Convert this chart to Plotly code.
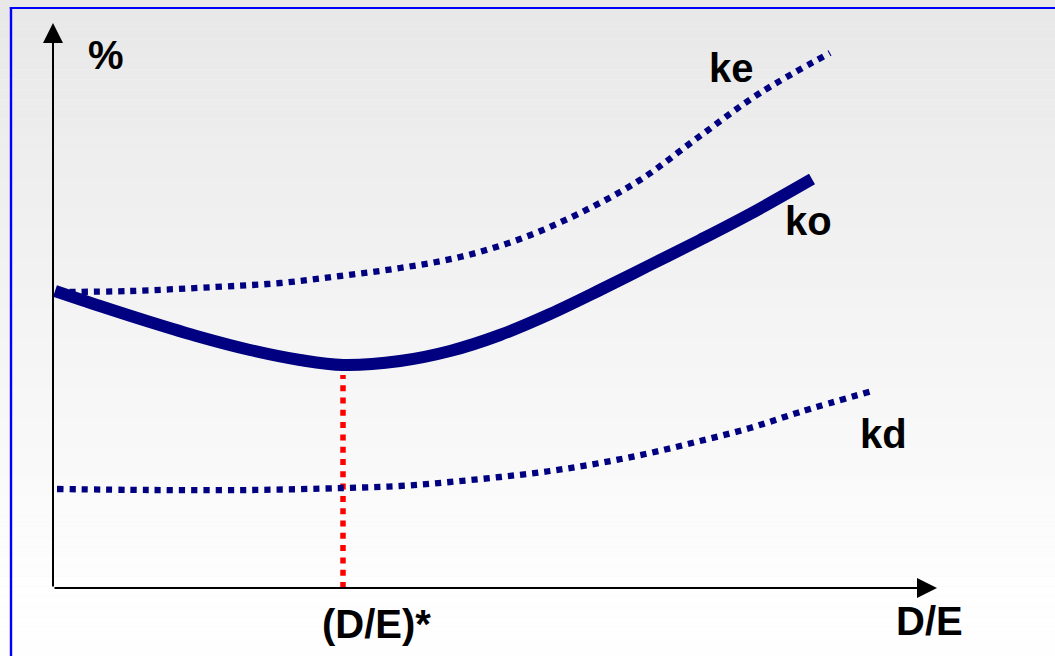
import plotly.graph_objects as go

# ---------------- data (D/E on x, % on y) ----------------
ke_x = [0.04, 0.77, 1.62, 2.27, 2.87, 3.47, 4.07, 4.67, 5.27, 5.87, 6.47, 7.07, 7.77]
ke_y = [5.92, 5.94, 6.02, 6.10, 6.24, 6.40, 6.62, 6.98, 7.50, 8.16, 9.04, 9.90, 10.70]

ko_x = [0.02, 0.47, 0.97, 1.47, 1.97, 2.47, 2.90, 3.47, 3.97, 4.47, 4.97, 5.47, 5.97, 6.47, 6.97, 7.59]
ko_y = [5.94, 5.64, 5.32, 5.02, 4.76, 4.56, 4.46, 4.54, 4.74, 5.06, 5.48, 5.96, 6.46, 6.96, 7.48, 8.18]

kd_x = [0.04, 0.97, 1.97, 2.90, 3.47, 3.97, 4.47, 4.97, 5.47, 5.97, 6.47, 6.97, 7.47, 8.19]
kd_y = [1.98, 1.96, 1.96, 2.00, 2.04, 2.12, 2.22, 2.34, 2.50, 2.70, 2.94, 3.20, 3.52, 3.94]

de_star = 2.90
opt_x = [de_star, de_star]
opt_y = [0.0, 4.26]

x_axis_end = 8.84
y_axis_end = 11.30

labels = ["%", "ke", "ko", "kd", "(D/E)*", "D/E"]
label_x = [0.53, 6.78, 7.55, 8.30, 3.23, 8.76]
label_y = [10.66, 10.40, 7.34, 3.08, -0.72, -0.66]

NAVY = "#000080"

fig = go.Figure()

# gradient background strips
n = 66
shapes = []
for i in range(n):
    t = i / (n - 1)
    c = int(round(232 + (254 - 232) * min(1.0, t * 1.1)))
    shapes.append(dict(type="rect", xref="paper", yref="paper",
                       x0=0, x1=1, y0=1 - (i + 1) / n, y1=1 - i / n,
                       fillcolor=f"rgb({c},{c},{c})", line=dict(width=0),
                       layer="below"))
# blue frame (top and left edges)
W, H = 1055, 656
shapes.append(dict(type="rect", xref="paper", yref="paper",
                   x0=9.8 / W, x1=12.2 / W, y0=-0.05, y1=1 - 7 / H,
                   fillcolor="#0000ff", line=dict(width=0), layer="above"))
shapes.append(dict(type="rect", xref="paper", yref="paper",
                   x0=9.8 / W, x1=1.05, y0=1 - 9 / H, y1=1 - 7 / H,
                   fillcolor="#0000ff", line=dict(width=0), layer="above"))

fig.add_trace(go.Scatter(x=opt_x, y=opt_y, mode="lines",
                         line=dict(color="#ff0000", width=5.5, dash="6px,6.3px"),
                         hoverinfo="skip", showlegend=False))
fig.add_trace(go.Scatter(x=kd_x, y=kd_y, mode="lines", line_shape="spline",
                         line=dict(color=NAVY, width=6.3, dash="6.2px,6px"),
                         showlegend=False, name="kd"))
fig.add_trace(go.Scatter(x=ke_x, y=ke_y, mode="lines", line_shape="spline",
                         line=dict(color=NAVY, width=6.3, dash="6.2px,6px"),
                         showlegend=False, name="ke"))
fig.add_trace(go.Scatter(x=ko_x, y=ko_y, mode="lines", line_shape="spline",
                         line=dict(color=NAVY, width=12),
                         showlegend=False, name="ko"))

annotations = []
# axes with arrowheads
annotations.append(dict(x=x_axis_end, y=0, ax=0, ay=0, xref="x", yref="y",
                        axref="x", ayref="y", text="", showarrow=True,
                        arrowhead=2, arrowsize=2, arrowwidth=2, arrowcolor="black"))
annotations.append(dict(x=0, y=y_axis_end, ax=0, ay=0, xref="x", yref="y",
                        axref="x", ayref="y", text="", showarrow=True,
                        arrowhead=2, arrowsize=2, arrowwidth=2, arrowcolor="black"))
for t, x, y in zip(labels, label_x, label_y):
    annotations.append(dict(x=x, y=y, xref="x", yref="y", text=f"<b>{t}</b>",
                            showarrow=False, xanchor="center", yanchor="middle",
                            font=dict(family="Liberation Sans, Arial", size=40, color="black")))

fig.update_layout(
    width=W, height=H,
    margin=dict(l=0, r=0, t=0, b=0),
    paper_bgcolor="#f4f4f4", plot_bgcolor="rgba(0,0,0,0)",
    xaxis=dict(range=[-0.53, 10.02], visible=False, fixedrange=True),
    yaxis=dict(range=[-1.36, 11.76], visible=False, fixedrange=True),
    shapes=shapes, annotations=annotations,
)

fig.write_html("out.html", config={"displayModeBar": False},
               post_script="document.body.style.margin='0';document.body.style.overflow='hidden';")
